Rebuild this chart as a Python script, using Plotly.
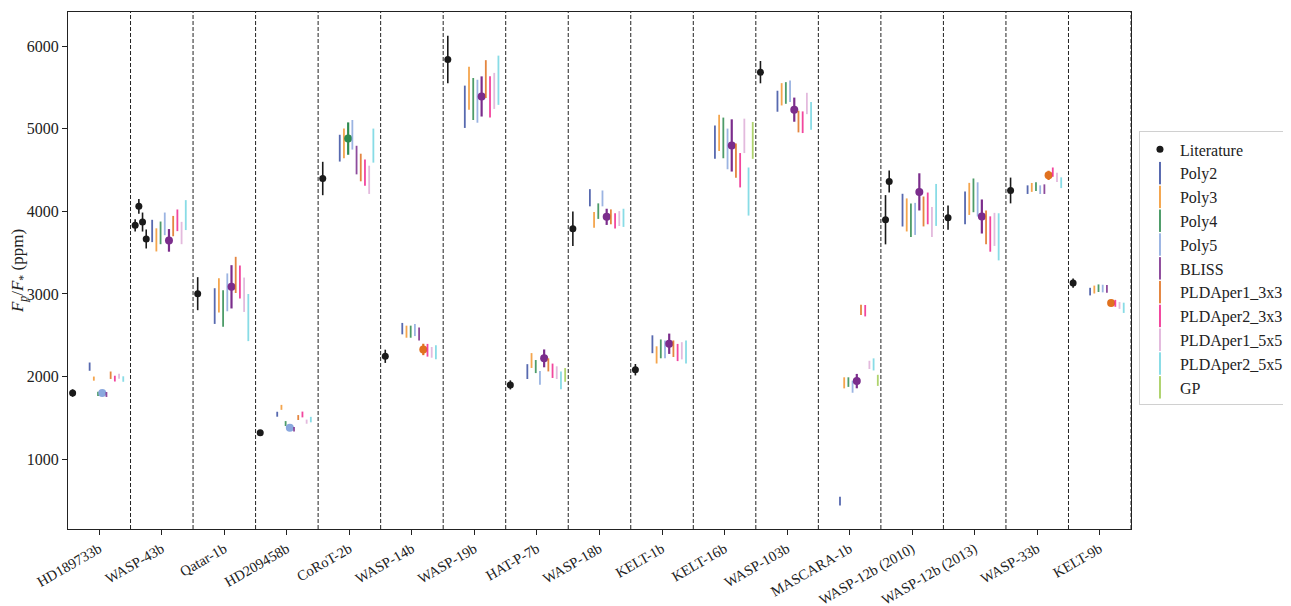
import plotly.graph_objects as go

planets = ["HD189733b", "WASP-43b", "Qatar-1b", "HD209458b", "CoRoT-2b", "WASP-14b",
           "WASP-19b", "HAT-P-7b", "WASP-18b", "KELT-1b", "KELT-16b", "WASP-103b",
           "MASCARA-1b", "WASP-12b (2010)", "WASP-12b (2013)", "WASP-33b", "KELT-9b"]

# literature eclipse depths (ppm), one list per planet
lit_vals = [[1800], [3830, 4060, 3870, 3665], [3003], [1321], [4397], [2245], [5838],
            [1899], [3789], [2083], [], [5684], [], [3898, 4360], [3923], [4252], [3132]]
lit_errs = [[45], [75, 90, 115, 115], [200], [30], [202], [80], [287],
            [55], [208], [69], [], [135], [], [298, 133], [146], [156], [56]]

methods = ["Poly2", "Poly3", "Poly4", "Poly5", "BLISS", "PLDAper1_3x3",
           "PLDAper2_3x3", "PLDAper1_5x5", "PLDAper2_5x5", "GP"]
colors = ["#3a4fa2", "#f3962f", "#2e8b4f", "#8aa8de", "#7b2d8c", "#e0711f",
          "#f0268e", "#dfaed8", "#74d6e2", "#a2cc55"]

poly2 = [2120, 3762, 2853, 1544, 4764, 2580, 5265, 2060, 4164, 2391, 4837, 5332, 492, 4014, 4041, 4262, 3028]
poly2_err = [50, 135, 216, 30, 162, 69, 256, 90, 104, 108, 202, 127, 54, 198, 198, 52, 46]
poly3 = [1975, 3654, 2982, 1627, 4822, 2543, 5490, 2194, 3896, 2262, 4949, 5416, 1924, 3956, 4150, 4289, 3053]
poly3_err = [25, 140, 208, 30, 179, 73, 260, 90, 94, 104, 219, 135, 67, 200, 194, 54, 48]
poly4 = [1791, 3739, 2824, 1431, 4880, 2543, 5359, 2121, 4002, 2335, 4888, 5432, 1933, 3891, 4193, 4299, 3069]
poly4_err = [25, 137, 221, 30, 196, 73, 254, 79, 94, 114, 246, 131, 58, 202, 204, 52, 46]
poly5 = [1800, 3848, 3019, 1379, 4926, 2563, 5332, 1983, 4156, 2328, 4755, 5453, 1877, 3908, 4145, 4262, 3065]
poly5_err = [22, 137, 229, 25, 179, 73, 260, 83, 96, 108, 246, 131, 73, 194, 206, 52, 46]
bliss = [1783, 3648, 3086, 1362, 4620, 2516, 5390, 2220, 3933, 2397, 4797, 5230, 1945, 4235, 3937, 4268, 3061]
bliss_err = [30, 137, 262, 27, 173, 79, 243, 108, 98, 123, 316, 146, 87, 225, 206, 58, 48]
pld1_3x3 = [2016, 3821, 3230, 1504, 4530, 2328, 5600, 2141, 3933, 2337, 4614, 5086, 2806, 3998, 3806, 4435, 2890]
pld1_3x3_err = [45, 123, 219, 30, 167, 69, 229, 79, 90, 100, 208, 131, 62, 181, 204, 56, 38]
pld2_3x3 = [1975, 3891, 3144, 1541, 4468, 2318, 5384, 2070, 3885, 2291, 4497, 5078, 2797, 4035, 3725, 4474, 2886]
pld2_3x3_err = [35, 131, 200, 35, 158, 77, 250, 87, 92, 104, 208, 131, 69, 192, 214, 56, 42]
pld1_5x5 = [2003, 3737, 2990, 1454, 4381, 2293, 5457, 2047, 3912, 2312, 4913, 5305, 2141, 3870, 3781, 4412, 2861]
pld1_5x5_err = [30, 135, 208, 25, 171, 65, 218, 77, 90, 104, 208, 129, 50, 181, 200, 56, 42]
pld2_5x5 = [1970, 3954, 2714, 1479, 4795, 2293, 5586, 1954, 3921, 2297, 4239, 5155, 2147, 4077, 3691, 4346, 2832]
pld2_5x5_err = [33, 181, 285, 33, 206, 85, 298, 108, 110, 140, 291, 167, 73, 254, 285, 65, 62]
gp = [None, None, None, None, None, None, None, 2020, None, None, 4858, None, 1954, None, None, None, None]
gp_err = [None, None, None, None, None, None, None, 83, None, None, 223, None, 67, None, None, None, None]

# preferred model for each planet
best = ["Poly5", "BLISS", "BLISS", "Poly5", "Poly4", "PLDAper1_3x3", "BLISS", "BLISS",
        "BLISS", "BLISS", "BLISS", "BLISS", "BLISS", "BLISS", "BLISS", "PLDAper1_3x3",
        "PLDAper1_3x3"]

vals = [poly2, poly3, poly4, poly5, bliss, pld1_3x3, pld2_3x3, pld1_5x5, pld2_5x5, gp]
errs = [poly2_err, poly3_err, poly4_err, poly5_err, bliss_err, pld1_3x3_err,
        pld2_3x3_err, pld1_5x5_err, pld2_5x5_err, gp_err]

FONT = "Liberation Serif, DejaVu Serif, serif"

fig = go.Figure()

# literature points
lx, ly, le = [], [], []
for i, (vs, es) in enumerate(zip(lit_vals, lit_errs)):
    for j, (v, e) in enumerate(zip(vs, es)):
        lx.append(i - 0.426 + 0.059 * j)
        ly.append(v)
        le.append(e)
fig.add_trace(go.Scatter(
    x=lx, y=ly, mode="markers", name="Literature", legendgroup="lit",
    marker=dict(color="#1a1a1a", size=7),
    error_y=dict(type="data", array=le, color="#1a1a1a", thickness=1.6, width=0),
))

# method error bars
for m, (name, col, v, e) in enumerate(zip(methods, colors, vals, errs)):
    xs, ys, es = [], [], []
    bx, by, be = [], [], []
    for i in range(len(planets)):
        if v[i] is None:
            continue
        x = i - 0.154 + 0.0672 * m
        if best[i] == name:
            bx.append(x); by.append(v[i]); be.append(e[i])
        else:
            xs.append(x); ys.append(v[i]); es.append(e[i])
    fig.add_trace(go.Scatter(
        x=xs, y=ys, mode="markers", name=name, showlegend=False, opacity=0.85,
        marker=dict(color=col, size=0.1),
        error_y=dict(type="data", array=es, color=col, thickness=1.8, width=0),
    ))
    if bx:
        fig.add_trace(go.Scatter(
            x=bx, y=by, mode="markers", name=name, showlegend=False,
            marker=dict(color=col, size=8),
            error_y=dict(type="data", array=be, color=col, thickness=2.2, width=0),
        ))
    # legend entry
    fig.add_trace(go.Scatter(
        x=[None], y=[None], mode="markers", name=name, opacity=0.85, legendgroup=name,
        marker=dict(symbol="line-ns", size=17, line=dict(color=col, width=2)),
    ))

for k in range(len(planets)):
    fig.add_vline(x=k + 0.5, line=dict(color="#222", width=1, dash="4px,2px"))

fig.update_xaxes(
    range=[-0.5, len(planets) - 0.5], tickvals=list(range(len(planets))), ticktext=planets,
    tickangle=-30, ticks="outside", ticklen=5, tickcolor="#222", automargin=False,
    tickfont=dict(size=14.5),
    showline=True, linecolor="#222", linewidth=1, mirror=True, showgrid=False, zeroline=False,
)
fig.update_yaxes(
    range=[155, 6412], tickvals=[1000, 2000, 3000, 4000, 5000, 6000],
    ticks="outside", ticklen=5, tickcolor="#222", automargin=False,
    tickfont=dict(size=16),
    showline=True, linecolor="#222", linewidth=1, mirror=True, showgrid=False, zeroline=False,
    title=dict(text="<i>F<sub>p</sub></i>/<i>F</i><sub>*</sub> (ppm)", standoff=4,
               font=dict(size=17)),
)

fig.update_layout(
    width=1291, height=598,
    margin=dict(l=60, r=168, t=4, b=77),
    plot_bgcolor="white", paper_bgcolor="white",
    font=dict(family=FONT, size=15, color="#222"),
    legend=dict(x=1.0075, xanchor="left", y=0.504, yanchor="middle",
                bordercolor="#d0d0d0", borderwidth=1, font=dict(size=16),
                itemwidth=30, tracegroupgap=0),
)

fig.write_html("out.html")
